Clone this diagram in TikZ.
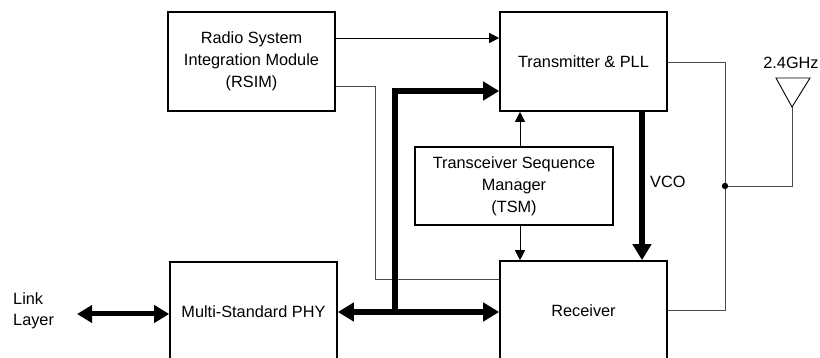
\documentclass[tikz,border=0pt]{standalone}
\usepackage{fontspec}
\setmainfont{Liberation Sans}
\usetikzlibrary{arrows.meta}
\begin{document}
\begin{tikzpicture}[x=1pt,y=-1pt,
  box/.style={draw,line width=1.6pt,rectangle,inner sep=0pt,align=center,font=\fontsize{16.3}{22}\selectfont},
  thinarrow/.style={line width=0.9pt,-{Triangle[length=10pt,width=10pt]}},
  thinline/.style={line width=0.9pt,black!70},
  thickarrow/.style={line width=6pt,line join=miter,-{Triangle[length=16pt,width=18pt]}},
  dblarrow/.style={line width=6pt,{Triangle[length=16pt,width=18pt]}-{Triangle[length=16pt,width=18pt]}},
  lbl/.style={font=\fontsize{16.3}{21}\selectfont,inner sep=0pt}]
\clip (0,0) rectangle (820,358);
\fill[white] (0,0) rectangle (820,358);
% boxes
\node[box,minimum width=167pt,minimum height=99pt] (rsim) at (251.5,61.5) {Radio System\\Integration Module\\(RSIM)};
\node[box,minimum width=167pt,minimum height=99pt] (tx) at (583.5,61.5) {Transmitter \& PLL};
\node[box,minimum width=198pt,minimum height=78pt] (tsm) at (514,186) {Transceiver Sequence\\Manager\\(TSM)};
\node[box,minimum width=167pt,minimum height=100pt] (phy) at (253.5,312) {Multi-Standard PHY};
\node[box,minimum width=167pt,minimum height=100pt] (rx) at (583.5,311) {Receiver};
% labels
\node[lbl,anchor=west,align=left] (link) at (13,311) {Link\\Layer};
\node[lbl,anchor=west] (vco) at (650,182) {VCO};
\node[lbl] (ghz) at (791,63) {2.4GHz};
% coordinates
\coordinate (y38) at (0,38);
\coordinate (r1) at (375,86);
\coordinate (r2) at (375,279);
\coordinate (t1) at (395,91);
\coordinate (t2) at (395,312);
\coordinate (ll) at (77,314);
\coordinate (x520) at (520,0);
\coordinate (x642) at (642,0);
\coordinate (c1) at (725,62);
\coordinate (c2) at (725,310);
\coordinate (d) at (725,186);
\coordinate (a1) at (792,186);
\coordinate (ant) at (792,107);
% thin connectors
\draw[thinarrow] (rsim.east |- y38) -- (tx.west |- y38);
\draw[thinline] (rsim.east |- r1) -- (r1) -- (r2) -- (rx.west |- r2);
\draw[thinarrow] (tsm.north -| x520) -- (tx.south -| x520);
\draw[thinarrow] (tsm.south -| x520) -- (rx.north -| x520);
\draw[thinline] (tx.east |- c1) -- (c1) -- (c2) -- (rx.east |- c2);
\draw[thinline] (d) -- (a1) -- (ant);
\fill (d) circle (3.2pt);
\draw[line width=0.9pt,line join=miter] (776,78) -- (810,78) -- (ant) -- cycle;
% thick connectors
\draw[dblarrow] (phy.east |- t2) -- (rx.west |- t2);
\draw[thickarrow] (t2) -- (t1) -- (tx.west |- t1);
\draw[dblarrow,line width=5pt,{Triangle[length=15pt,width=17pt]}-{Triangle[length=15pt,width=17pt]}] (ll) -- (phy.west |- ll);
\draw[thickarrow,line width=5.5pt] (tx.south -| x642) -- (rx.north -| x642);
\end{tikzpicture}
\end{document}
